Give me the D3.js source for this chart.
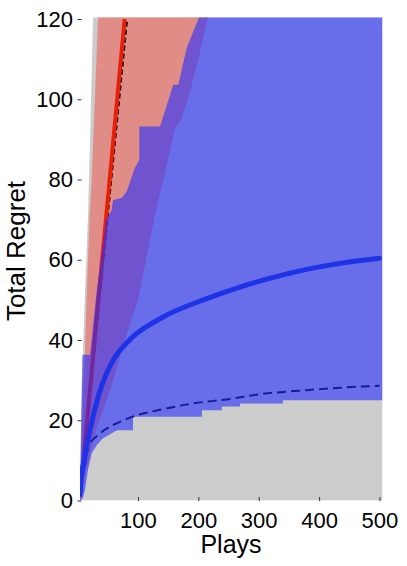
<!DOCTYPE html>
<html>
<head>
<meta charset="utf-8">
<script src="https://cdn.jsdelivr.net/npm/d3@7/dist/d3.min.js"></script>
<style>
    body { margin: 0; background: #fff; }
    text { font-family: "Liberation Sans", Arial, Helvetica, sans-serif; fill: #000; }
</style>
</head>
<body>
<svg id="chart" width="407" height="566"></svg>
<script>
// [plays, total regret] pairs
const grayUpper = [[4, 2], [6, 18], [9, 38], [13, 55], [17, 70], [21, 92], [25.5, 120], [27, 130], [505, 130]];
const grayLower = [[4, 0], [505, 0]];

const redUpper = [[4, 1], [6, 10], [9, 26], [12.3, 38], [16, 55], [19.7, 70], [23.3, 80], [28, 98], [33.8, 120], [36, 130]];
const redLower = [[4, 0], [10.6, 5.1], [30.5, 17.6], [53.7, 27.5], [70.2, 35.8], [81.8, 41.7], [100, 50],
    [128.2, 71.1], [147.6, 83.6], [161.3, 92.8], [172.4, 95.3], [186.2, 101.9], [202.7, 111.8], [216.5, 121], [225, 130]];

const blueUpper = [[4, 2], [5, 12], [6.5, 25], [8, 36.3], [20.6, 36.3], [30.5, 50.7], [47, 69.9], [56.5, 72.4],
    [58.7, 74.9], [73, 75.4], [81.3, 77], [95, 82.9], [102.2, 84.9], [102.2, 93.2], [136.5, 93.2], [153, 101],
    [158.5, 103.6], [166.8, 103.6], [180.7, 112.8], [201.6, 120.6], [210, 130], [505, 130]];
const blueLower = [[4, 0], [8.5, 0.5], [12.3, 2.6], [17.2, 7.6], [23.4, 11.8], [31.7, 13.8], [42, 15.5],
    [53.7, 16.5], [65.3, 17.5], [91.8, 17.5], [91.8, 20.9], [206, 20.9], [206, 22.5], [239, 22.5], [239, 23.4],
    [269, 23.4], [269, 24.2], [340, 24.2], [340, 25], [505, 25]];

const redMean = [[4, 1], [78, 120]];
const redBound = [[4, 1], [82.3, 120]];

const blueMean = [[4.5, 2], [5.7, 5.1], [11.1, 10.1], [19.4, 16.8], [36, 26.8], [58.2, 34.8], [81.3, 39.3],
    [136.5, 45.3], [213.8, 50.3], [269, 53.2], [324, 55.6], [379.5, 57.6], [434.6, 59.1], [500, 60.4]];
const blueBound = [[4.5, 1], [6, 4], [13.9, 10.1], [17.7, 13.4], [37.1, 16.7], [70.2, 19.6], [99.6, 21.3],
    [136.5, 22.6], [191.6, 24.2], [247, 25.2], [302, 26.5], [379.5, 27.5], [434.6, 28.1], [500, 28.6]];

const xTicks = [100, 200, 300, 400, 500];
const yTicks = [0, 20, 40, 60, 80, 100, 120];

const x = d3.scaleLinear().domain([4, 505]).range([80, 382.5]);
const y = d3.scaleLinear().domain([0, 120]).range([500.5, 19]);

const svg = d3.select("#chart");

svg.append("defs")
    .append("clipPath")
    .attr("id", "plot-clip")
    .append("rect")
    .attr("x", x(4))
    .attr("y", y(120.4))
    .attr("width", x(505) - x(4))
    .attr("height", y(0) - y(120.4));

const line = d3.line().x(d => x(d[0])).y(d => y(d[1]));
const smooth = d3.line().x(d => x(d[0])).y(d => y(d[1])).curve(d3.curveMonotoneX);

function band(upper, lower) {
    return line(upper.concat(lower.slice().reverse())) + "Z";
}

const g = svg.append("g").attr("clip-path", "url(#plot-clip)");

g.append("path").attr("d", band(grayUpper, grayLower)).attr("fill", "#cccccc");
g.append("path").attr("d", band(redUpper, redLower)).attr("fill", "rgb(224,141,136)");

g.append("path")
    .attr("d", line(redBound))
    .attr("fill", "none")
    .attr("stroke", "#000")
    .attr("stroke-width", 1.8)
    .attr("stroke-dasharray", "5,3");

g.append("path")
    .attr("d", line(redMean))
    .attr("fill", "none")
    .attr("stroke", "#e8200a")
    .attr("stroke-width", 4);

g.append("path")
    .attr("d", smooth(blueBound))
    .attr("fill", "none")
    .attr("stroke", "#000")
    .attr("stroke-width", 2)
    .attr("stroke-dasharray", "9,5");

// blue band over everything so far
g.append("path")
    .attr("d", band(blueUpper, blueLower))
    .attr("fill", "rgb(37,45,253)")
    .attr("fill-opacity", 0.6);

g.append("path")
    .attr("d", smooth(blueMean))
    .attr("fill", "none")
    .attr("stroke", "#1f33e6")
    .attr("stroke-width", 5)
    .attr("stroke-linecap", "round");

// axes
const yAxis = svg.append("g")
    .attr("transform", "translate(81.5,0)")
    .call(d3.axisLeft(y).tickValues(yTicks).tickSize(4).tickPadding(4.5));
yAxis.select(".domain").remove();
yAxis.selectAll("line").attr("stroke", "#333");
yAxis.selectAll("text").style("font-size", "22px").style("font-family", "Liberation Sans, Arial, sans-serif");

const xAxis = svg.append("g")
    .attr("transform", "translate(0,501)")
    .call(d3.axisBottom(x).tickValues(xTicks).tickSizeInner(-4).tickSizeOuter(0).tickPadding(11.5));
xAxis.select(".domain").remove();
xAxis.selectAll("line").attr("stroke", "#333");
xAxis.selectAll("text").style("font-size", "22px").style("font-family", "Liberation Sans, Arial, sans-serif");

svg.append("text")
    .attr("x", 231)
    .attr("y", 553)
    .attr("text-anchor", "middle")
    .style("font-size", "25px")
    .text("Plays");

svg.append("text")
    .attr("transform", "translate(25,251) rotate(-90)")
    .attr("text-anchor", "middle")
    .style("font-size", "26px")
    .text("Total Regret");
</script>
</body>
</html>
